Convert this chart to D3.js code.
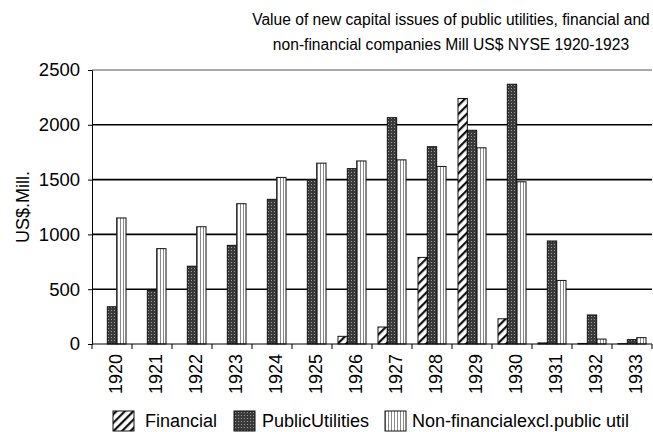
<!DOCTYPE html>
<html>
<head>
<meta charset="utf-8">
<script src="https://cdn.jsdelivr.net/npm/d3@7"></script>
<style>
  body { margin: 0; background: #fff; }
  text { font-family: "Liberation Sans", Arial, sans-serif; fill: #000; }
</style>
</head>
<body>
<svg id="chart" width="653" height="432"></svg>
<script>
var years = ["1920", "1921", "1922", "1923", "1924", "1925", "1926",
             "1927", "1928", "1929", "1930", "1931", "1932", "1933"];
var seriesNames = ["Financial", "PublicUtilities", "Non-financialexcl.public util"];
var financial = [0, 0, 0, 0, 0, 0, 70, 155, 790, 2240, 230, 10, 5, 3];
var publicUtilities = [340, 490, 710, 900, 1320, 1500, 1600, 2065, 1800, 1950, 2370, 940, 265, 40];
var nonFinancial = [1150, 870, 1070, 1280, 1520, 1650, 1670, 1680, 1620, 1790, 1480, 580, 45, 58];
var yTicks = [0, 500, 1000, 1500, 2000, 2500];

var svg = d3.select("#chart");
var margin = {left: 92, right: 1, top: 70, bottom: 88};
var width = 653, height = 432;

var x0 = d3.scaleBand().domain(years).range([margin.left, width - margin.right]);
var x1 = d3.scaleBand().domain(seriesNames).range([6, x0.bandwidth() - 6]);
var y = d3.scaleLinear().domain([0, 2500]).range([height - margin.bottom, margin.top]);

var defs = svg.append("defs");

// diagonal hatch for Financial
var pf = defs.append("pattern").attr("id", "pat-fin")
    .attr("patternUnits", "userSpaceOnUse").attr("width", 6).attr("height", 6)
    .attr("patternTransform", "rotate(45)");
pf.append("rect").attr("width", 6).attr("height", 6).attr("fill", "#fff");
pf.append("rect").attr("x", 0).attr("width", 2.2).attr("height", 6).attr("fill", "#111");

// dark dotted for Public Utilities
var pu = defs.append("pattern").attr("id", "pat-pu")
    .attr("patternUnits", "userSpaceOnUse").attr("width", 3).attr("height", 3);
pu.append("rect").attr("width", 3).attr("height", 3).attr("fill", "#3a3a3a");
pu.append("rect").attr("x", 1).attr("y", 1).attr("width", 1).attr("height", 1).attr("fill", "#9a9a9a");

// vertical stripes for Non-financial
var pn = defs.append("pattern").attr("id", "pat-nf")
    .attr("patternUnits", "userSpaceOnUse").attr("width", 3).attr("height", 3);
pn.append("rect").attr("width", 3).attr("height", 3).attr("fill", "#fff");
pn.append("rect").attr("x", 1).attr("width", 1).attr("height", 3).attr("fill", "#8a8a8a");

var fills = {"Financial": "url(#pat-fin)", "PublicUtilities": "url(#pat-pu)",
             "Non-financialexcl.public util": "url(#pat-nf)"};

// gridlines
svg.append("g").selectAll("line")
  .data(yTicks.filter(function(d) { return d > 0; }))
  .enter().append("line")
    .attr("x1", margin.left).attr("x2", width - margin.right)
    .attr("y1", function(d) { return y(d); }).attr("y2", function(d) { return y(d); })
    .attr("stroke", function(d) { return d === 2500 ? "#555" : "#000"; })
    .attr("stroke-width", function(d) { return d === 2500 ? 1 : 1.6; });

// bars
var table = years.map(function(yr, i) {
  return {year: yr, values: [
    {key: seriesNames[0], value: financial[i]},
    {key: seriesNames[1], value: publicUtilities[i]},
    {key: seriesNames[2], value: nonFinancial[i]}
  ]};
});

var group = svg.append("g").selectAll("g")
  .data(table)
  .enter().append("g")
    .attr("transform", function(d) { return "translate(" + x0(d.year) + ",0)"; });

group.selectAll("rect")
  .data(function(d) { return d.values.filter(function(v) { return v.value > 0; }); })
  .enter().append("rect")
    .attr("x", function(d) { return x1(d.key); })
    .attr("width", x1.bandwidth())
    .attr("y", function(d) { return y(d.value); })
    .attr("height", function(d) { return y(0) - y(d.value); })
    .attr("fill", function(d) { return fills[d.key]; })
    .attr("stroke", "#111")
    .attr("stroke-width", 1);

// y axis
var yAxis = svg.append("g")
    .attr("transform", "translate(" + margin.left + ",0)")
    .call(d3.axisLeft(y).tickValues(yTicks).tickFormat(d3.format("d")).tickSize(4).tickPadding(8));
yAxis.selectAll("text").style("font-size", "18.5px")
    .style("font-family", "'Liberation Sans', Arial, sans-serif");
yAxis.select(".domain").attr("stroke", "#000");

// x axis
var xAxis = svg.append("g")
    .attr("transform", "translate(0," + y(0) + ")");
xAxis.append("line")
    .attr("x1", margin.left).attr("x2", width - margin.right)
    .attr("stroke", "#000").attr("stroke-width", 1.2);
xAxis.selectAll("line.tick")
  .data(years.concat(["end"]))
  .enter().append("line").attr("class", "tick")
    .attr("x1", function(d, i) { return margin.left + i * x0.bandwidth(); })
    .attr("x2", function(d, i) { return margin.left + i * x0.bandwidth(); })
    .attr("y1", 0).attr("y2", 5)
    .attr("stroke", "#000");
xAxis.selectAll("text")
  .data(years)
  .enter().append("text")
    .attr("transform", function(d) {
      return "translate(" + (x0(d) + x0.bandwidth() / 2 + 10) + ",10) rotate(-90)";
    })
    .attr("text-anchor", "end")
    .style("font-size", "18px")
    .text(function(d) { return d; });

// y label
svg.append("text")
    .attr("transform", "translate(29,207) rotate(-90)")
    .attr("text-anchor", "middle")
    .style("font-size", "18px")
    .text("US$.Mill.");

// title
var title = svg.append("text")
    .attr("text-anchor", "middle")
    .style("font-size", "15.6px");
title.append("tspan").attr("x", 451).attr("y", 25)
    .text("Value of new capital issues of public utilities, financial and");
title.append("tspan").attr("x", 451).attr("y", 50)
    .text("non-financial companies Mill US$ NYSE 1920-1923");

// legend
var legendBoxX = [113, 234, 385];
var legendTextX = [145, 262, 412];
var legend = svg.append("g").selectAll("g")
  .data(seriesNames)
  .enter().append("g");
legend.append("rect")
    .attr("x", function(d, i) { return legendBoxX[i]; })
    .attr("y", 411)
    .attr("width", 21).attr("height", 20)
    .attr("fill", function(d) { return fills[d]; })
    .attr("stroke", "#111");
legend.append("text")
    .attr("x", function(d, i) { return legendTextX[i]; })
    .attr("y", 427)
    .style("font-size", "18px")
    .text(function(d) { return d; });
</script>
</body>
</html>
